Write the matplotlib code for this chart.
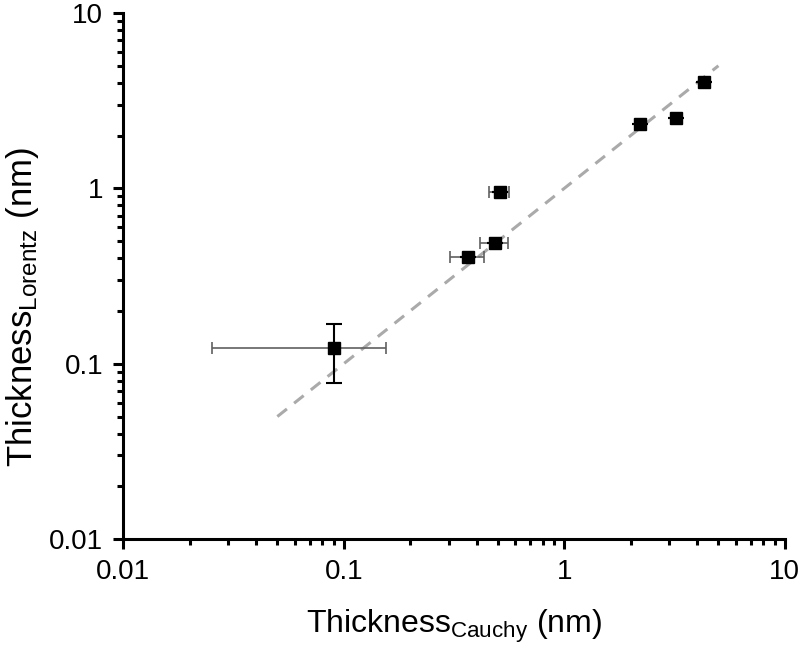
import matplotlib
matplotlib.use("Agg")
import matplotlib.pyplot as plt
from matplotlib.ticker import LogLocator, FixedLocator, FixedFormatter, NullFormatter

plt.rcParams['font.family'] = ['Liberation Sans', 'DejaVu Sans']
plt.rcParams['mathtext.fontset'] = 'custom'
plt.rcParams['mathtext.rm'] = 'Liberation Sans'
plt.rcParams['mathtext.it'] = 'Liberation Sans:italic'

# Data (nm)
x_cauchy = [0.0904, 0.367, 0.486, 0.510, 2.21, 3.21, 4.28]
y_lorentz = [0.123, 0.408, 0.490, 0.958, 2.33, 2.51, 4.03]
x_err = [0.065, 0.064, 0.071, 0.053, 0.0, 0.0, 0.0]
y_err = [0.045, 0.0, 0.0, 0.0, 0.0, 0.0, 0.0]
ref_line = [0.05, 5.0]
tick_vals = [0.01, 0.1, 1, 10]
tick_labels = ["0.01", "0.1", "1", "10"]

fig = plt.figure(figsize=(8, 6.48), dpi=100)
ax = fig.add_axes([0.154, 0.168, 0.827, 0.812])

ax.plot(ref_line, ref_line, linestyle=(0, (4, 3)), color='#aaaaaa', linewidth=2.2, zorder=1)

ax.errorbar(x_cauchy, y_lorentz, xerr=x_err, fmt='none', ecolor='#606060',
            elinewidth=1.2, capsize=4, capthick=1.2, zorder=2)
ax.errorbar(x_cauchy, y_lorentz, yerr=y_err, fmt='none', ecolor='black',
            elinewidth=1.5, capsize=6, capthick=1.5, zorder=3)
ax.plot(x_cauchy, y_lorentz, linestyle='none', marker='s', markersize=8,
        color='black', zorder=4)

ax.set_xscale('log')
ax.set_yscale('log')
ax.set_xlim(0.01, 10)
ax.set_ylim(0.01, 10)

for axis in (ax.xaxis, ax.yaxis):
    axis.set_major_locator(FixedLocator(tick_vals))
    axis.set_major_formatter(FixedFormatter(tick_labels))
    axis.set_minor_locator(LogLocator(base=10, subs=range(2, 10), numticks=20))
    axis.set_minor_formatter(NullFormatter())

ax.spines['top'].set_visible(False)
ax.spines['right'].set_visible(False)
ax.spines['left'].set_linewidth(2.2)
ax.spines['bottom'].set_linewidth(2.2)
ax.tick_params(which='major', direction='out', length=7.5, width=2.2, labelsize=20, pad=7)
ax.tick_params(which='minor', direction='out', length=4, width=2.2)

ax.set_xlabel(r'Thickness$_{\mathrm{Cauchy}}$ (nm)', fontsize=23, labelpad=16)
ax.set_ylabel(r'Thickness$_{\mathrm{Lorentz}}$ (nm)', fontsize=25, labelpad=6)
ax.yaxis.label.set_y(0.441)

fig.savefig('out.png', dpi=100)
